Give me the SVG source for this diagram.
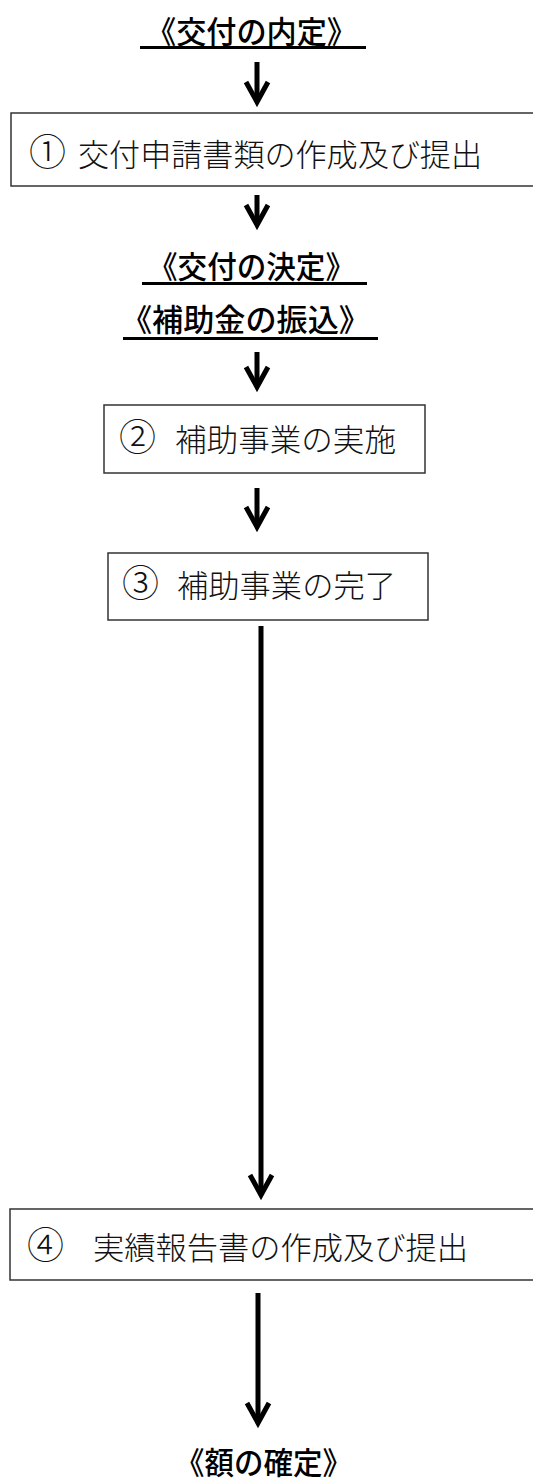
<svg xmlns="http://www.w3.org/2000/svg" width="533" height="1483" viewBox="0 0 533 1483">
<style>
.lbl{font-family:"Noto Sans CJK JP","Noto Sans CJK SC",sans-serif;font-size:31px;font-weight:500;fill:#000;text-anchor:middle}
.txt{font-family:"Noto Sans CJK JP","Noto Sans CJK SC",sans-serif;font-size:31px;font-weight:300;fill:#111}
.num{font-size:37px}
.box{fill:#fff;stroke:#333;stroke-width:1.5}
.ul{stroke:#000;stroke-width:3}
.arr{stroke:#000;stroke-width:5;fill:none;marker-end:url(#ah)}
</style>
<defs>
<marker id="ah" markerUnits="userSpaceOnUse" markerWidth="34" markerHeight="34" viewBox="-28 -17 34 34" refX="0" refY="0" orient="auto" overflow="visible">
<path d="M-20,-11 L0,0 L-20,11" fill="none" stroke="#000" stroke-width="5" stroke-linejoin="miter"/>
</marker>
</defs>
<rect width="533" height="1483" fill="#fff"/>
<g id="label-naitei">
<text class="lbl" x="251.5" y="43" textLength="211" lengthAdjust="spacingAndGlyphs">《交付の内定》</text>
<line class="ul" x1="140" y1="47.5" x2="366" y2="47.5"/>
</g>
<g id="node1">
<rect class="box" x="11" y="113" width="540" height="73"/>
<text class="txt" y="166"><tspan class="num" x="29">①</tspan><tspan x="78" textLength="404" lengthAdjust="spacingAndGlyphs">交付申請書類の作成及び提出</tspan></text>
</g>
<g id="label-kettei">
<text class="lbl" x="251.5" y="278" textLength="207" lengthAdjust="spacingAndGlyphs">《交付の決定》</text>
<line class="ul" x1="142" y1="283.5" x2="367" y2="283.5"/>
</g>
<g id="label-furikomi">
<text class="lbl" x="245.5" y="331" textLength="249" lengthAdjust="spacingAndGlyphs">《補助金の振込》</text>
<line class="ul" x1="123" y1="338.5" x2="378" y2="338.5"/>
</g>
<g id="node2">
<rect class="box" x="104" y="405" width="321" height="68"/>
<text class="txt" y="451"><tspan class="num" x="119">②</tspan><tspan x="175" textLength="221" lengthAdjust="spacingAndGlyphs">補助事業の実施</tspan></text>
</g>
<g id="node3">
<rect class="box" x="108" y="553" width="320" height="67"/>
<text class="txt" y="597"><tspan class="num" x="122">③</tspan><tspan x="177" textLength="219" lengthAdjust="spacingAndGlyphs">補助事業の完了</tspan></text>
</g>
<g id="node4">
<rect class="box" x="10" y="1209" width="540" height="71"/>
<text class="txt" y="1259"><tspan class="num" x="27">④</tspan><tspan x="93" textLength="375" lengthAdjust="spacingAndGlyphs">実績報告書の作成及び提出</tspan></text>
</g>
<g id="label-kakutei">
<text class="lbl" x="263.5" y="1474" textLength="177" lengthAdjust="spacingAndGlyphs">《額の確定》</text>
</g>
<g id="connectors">
<path class="arr" d="M257,62 V102"/>
<path class="arr" d="M257,195 V225"/>
<path class="arr" d="M257,352 V387"/>
<path class="arr" d="M257,488 V527"/>
<path class="arr" d="M261,626 V1195"/>
<path class="arr" d="M258,1293 V1423"/>
</g>
</svg>
